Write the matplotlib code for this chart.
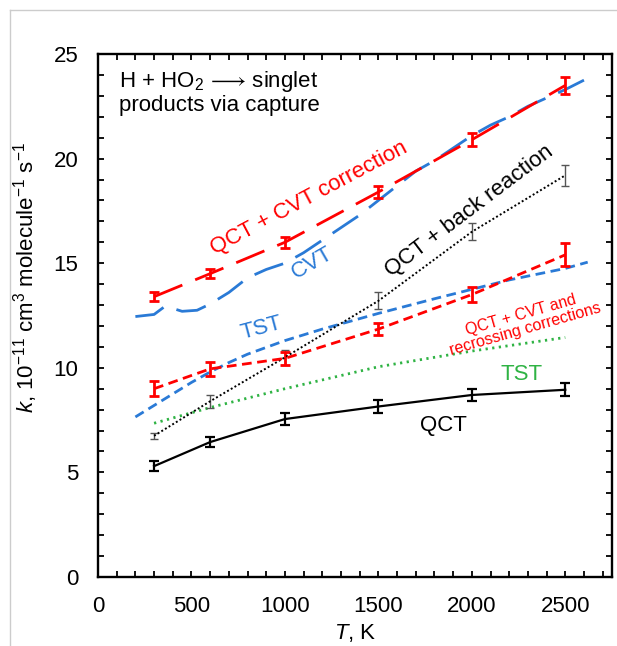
import matplotlib
matplotlib.use('Agg')
import matplotlib.pyplot as plt
from matplotlib.ticker import MultipleLocator
from matplotlib.lines import Line2D
import numpy as np

plt.rcParams['font.family'] = ['Liberation Sans', 'DejaVu Sans']
plt.rcParams['mathtext.fontset'] = 'custom'
plt.rcParams['mathtext.rm'] = 'Liberation Sans'
plt.rcParams['mathtext.it'] = 'Liberation Sans:italic'
plt.rcParams['font.size'] = 16

# trajectory temperatures (K)
T_qct = [300, 600, 1000, 1500, 2000, 2500]

# QCT
k_qct = [5.3, 6.45, 7.55, 8.15, 8.7, 8.95]
e_qct = [0.25, 0.25, 0.3, 0.3, 0.3, 0.3]

# QCT + CVT correction
k_cvtcorr = [13.4, 14.5, 16.0, 18.4, 20.9, 23.5]
e_cvtcorr = [0.2, 0.2, 0.25, 0.3, 0.3, 0.4]

# QCT + CVT and recrossing corrections
k_recross = [9.0, 9.95, 10.45, 11.85, 13.5, 15.4]
e_recross = [0.35, 0.35, 0.3, 0.3, 0.35, 0.55]

# QCT + back reaction
k_back = [6.75, 8.4, 10.5, 13.2, 16.5, 19.2]
e_back = [0.15, 0.3, 0.35, 0.4, 0.4, 0.5]

# CVT curve
T_cvt = [200, 300, 360, 450, 530, 600, 700, 800, 900, 1000, 1100, 1200, 1300,
         1400, 1500, 1600, 1700, 1800, 1900, 2000, 2100, 2200, 2300, 2400, 2500, 2600]
k_cvt = [12.45, 12.55, 12.95, 12.7, 12.75, 13.05, 13.6, 14.3, 14.7, 15.0, 15.5, 16.1, 16.7,
         17.3, 18.0, 18.7, 19.4, 19.9, 20.5, 21.1, 21.6, 22.0, 22.5, 22.9, 23.3, 23.75]

# TST curve (blue)
T_tst = [200, 300, 400, 500, 600, 700, 800, 1000, 1200, 1500, 1800, 2000, 2200, 2500, 2620]
k_tst = [7.65, 8.2, 8.75, 9.3, 9.8, 10.25, 10.65, 11.3, 11.85, 12.6, 13.3, 13.75, 14.2, 14.75, 15.05]

# TST (green)
T_tst2 = [300, 600, 1000, 1500, 2000, 2500]
k_tst2 = [7.35, 8.1, 9.0, 10.05, 10.8, 11.45]

red = '#ff0000'
blue = '#2a7ad6'
green = '#2fb344'

fig = plt.figure(figsize=(6.17, 6.46), dpi=100)
ax = fig.add_axes([98/617, 1-577/646, (612-98)/617, (577-54)/646])

ax.plot(T_cvt, k_cvt, color=blue, lw=2, dashes=(11, 5))
ax.plot(T_tst, k_tst, color=blue, lw=2, dashes=(3.5, 2))
ax.plot(T_tst2, k_tst2, color=green, lw=2, dashes=(0.8, 1.6))

ax.errorbar(T_qct, k_back, yerr=e_back, color='black', lw=1.4, dashes=(1, 1.2),
            ecolor='#555555', elinewidth=1, capsize=3, capthick=1)
ax.errorbar(T_qct, k_recross, yerr=e_recross, color=red, lw=2, dashes=(3.5, 2),
            elinewidth=2, capsize=3.5, capthick=2)
ax.errorbar(T_qct, k_cvtcorr, yerr=e_cvtcorr, color=red, lw=2, dashes=(11, 5),
            elinewidth=2, capsize=3.5, capthick=2)
ax.errorbar(T_qct, k_qct, yerr=e_qct, color='black', lw=1.6,
            elinewidth=1.6, capsize=3.5, capthick=1.6)

ax.set_xlim(0, 2750)
ax.set_ylim(0, 25)
ax.xaxis.set_major_locator(MultipleLocator(500))
ax.xaxis.set_minor_locator(MultipleLocator(100))
ax.yaxis.set_major_locator(MultipleLocator(5))
ax.yaxis.set_minor_locator(MultipleLocator(1))
ax.tick_params(which='both', direction='in', top=True, right=True,
               length=4, width=1.3, labelsize=16)
ax.tick_params(axis='x', which='both', pad=14)
ax.tick_params(axis='y', which='both', pad=14)
for s in ax.spines.values():
    s.set_linewidth(1.7)

ax.set_xlabel(r'$T$, K', fontsize=16, labelpad=3)
ax.set_ylabel(r'$k$, 10$^{-11}$ cm$^3$ molecule$^{-1}$ s$^{-1}$', fontsize=16)
ax.yaxis.set_label_coords(-0.112, 0.572)

ax.text(112, 24.3, r'H + HO$_2$ $\!\longrightarrow\!$ singlet' + '\nproducts via capture', fontsize=16,
        ha='left', va='top', linespacing=1.1)
ax.text(1132, 18.1, 'QCT + CVT correction', color=red, fontsize=16,
        rotation=28, ha='center', va='center', rotation_mode='anchor')
ax.text(1145, 15.0, 'CVT', color=blue, fontsize=16,
        rotation=30, ha='center', va='center', rotation_mode='anchor')
ax.text(1987, 17.5, 'QCT + back reaction', color='black', fontsize=16,
        rotation=37, ha='center', va='center', rotation_mode='anchor')
ax.text(877, 11.9, 'TST', color=blue, fontsize=16,
        rotation=15, ha='center', va='center', rotation_mode='anchor')
ax.text(2275, 12.2, 'QCT + CVT and\nrecrossing corrections', color=red, fontsize=11.5,
        rotation=16, ha='center', va='center', rotation_mode='anchor', linespacing=1.0)
ax.text(2265, 9.7, 'TST', color=green, fontsize=16, ha='center', va='center')
ax.text(1850, 7.25, 'QCT', color='black', fontsize=16, ha='center', va='center')

# light frame around the picture
fig.add_artist(Line2D([10/617, 10/617], [0, 1-10/646], color='#cccccc', lw=1))
fig.add_artist(Line2D([10/617, 1], [1-10/646, 1-10/646], color='#cccccc', lw=1))

fig.savefig('out.png', dpi=100)
